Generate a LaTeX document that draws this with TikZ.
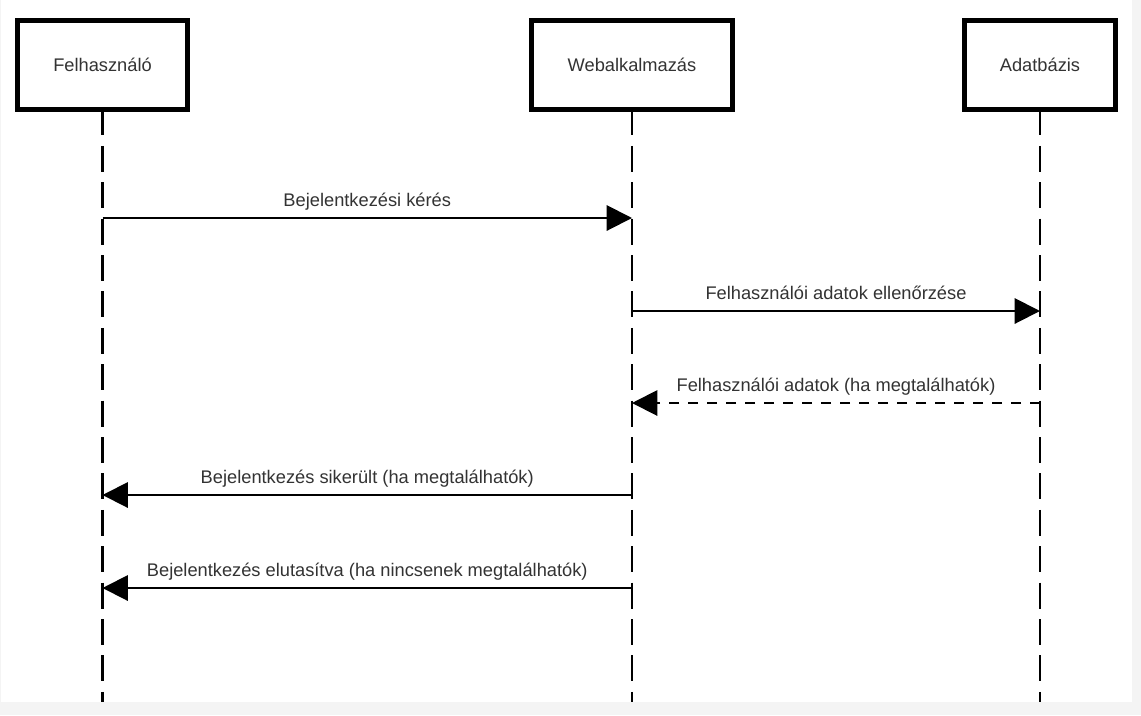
\documentclass[tikz,border=0pt]{standalone}
\usepackage{fontspec}
\setmainfont{Liberation Sans}
\usetikzlibrary{arrows.meta}
\definecolor{pagegrey}{HTML}{F4F4F4}
\definecolor{txtgrey}{HTML}{333333}

\begin{document}
\begin{tikzpicture}[x=0.75pt,y=-0.75pt,
    actor/.style={draw=black,line width=3.75pt,fill=white,minimum height=66.75pt,
      text=txtgrey,font=\fontsize{13.7}{16}\selectfont},
    lifeline/.style={draw=black,line width=1.6pt,dash pattern=on 19.5pt off 7.8pt,dash phase=1.9pt},
    msg/.style={draw=black,line width=1.5pt,-{Triangle[length=19pt,width=19pt]}},
    reply/.style={msg,dash pattern=on 7.5pt off 6.75pt},
    lbl/.style={midway,anchor=base,yshift=9pt,inner sep=0pt,text=txtgrey,
      font=\fontsize{13.7}{16}\selectfont}]
  % page
  \fill[pagegrey](0,0) rectangle (1141,715);
  \fill[white](1,0) rectangle (1132,702);
  \useasboundingbox(0,0) rectangle (1141,715);
  % actors
  \node[actor,minimum width=127.5pt] (user) at (102.5,65) {Felhasználó};
  \node[actor,minimum width=150.75pt] (web) at (632,65) {Webalkalmazás};
  \node[actor,minimum width=113.25pt] (db) at (1040,65) {Adatbázis};
  % lifelines
  \coordinate (userend) at (102.5,702);
  \coordinate (webend) at (632,702);
  \coordinate (dbend) at (1040,702);
  \draw[lifeline](user.south)--(userend);
  \draw[lifeline](web.south)--(webend);
  \draw[lifeline](db.south)--(dbend);
  % message points
  \foreach \n/\y in {1/218,2/311,3/403,4/495,5/588}{
    \coordinate (u\n) at (102.5,\y);
    \coordinate (w\n) at (632,\y);
    \coordinate (d\n) at (1040,\y);
  }
  \draw[msg](u1)--(w1) node[lbl]{Bejelentkezési kérés};
  \draw[msg](w2)--(d2) node[lbl]{Felhasználói adatok ellenőrzése};
  \draw[reply](d3)--(w3) node[lbl]{Felhasználói adatok (ha megtalálhatók)};
  \draw[msg](w4)--(u4) node[lbl]{Bejelentkezés sikerült (ha megtalálhatók)};
  \draw[msg](w5)--(u5) node[lbl]{Bejelentkezés elutasítva (ha nincsenek megtalálhatók)};
\end{tikzpicture}
\end{document}
